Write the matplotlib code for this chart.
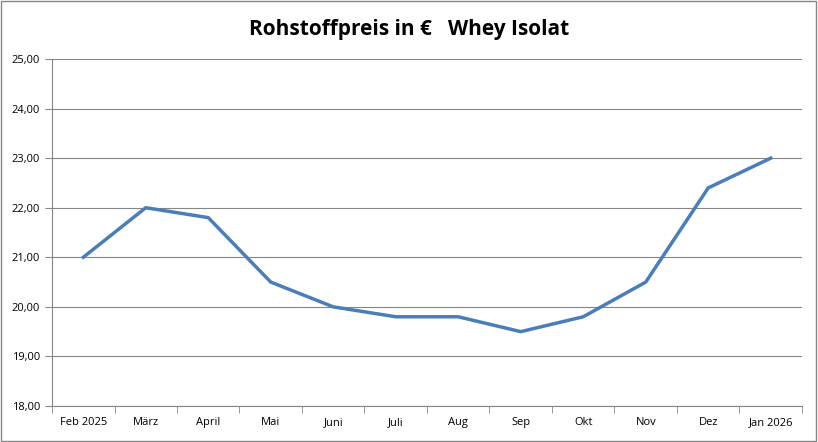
import matplotlib
matplotlib.use("Agg")
import matplotlib.pyplot as plt
from matplotlib.patches import Rectangle

months = ["Feb 2025", "März", "April", "Mai", "Juni", "Juli", "Aug", "Sep", "Okt", "Nov", "Dez", "Jan 2026"]
prices = [21.0, 22.0, 21.8, 20.5, 20.0, 19.8, 19.8, 19.5, 19.8, 20.5, 22.4, 23.0]
title = "Rohstoffpreis in €   Whey Isolat"

plt.rcParams['font.family'] = ['Open Sans', 'DejaVu Sans']
fig = plt.figure(figsize=(8.18, 4.42), dpi=100)
ax = fig.add_axes([52/818, 1-406/442, 750/818, 347/442])
x = list(range(len(months)))
ax.plot(x, prices, color="#4a7ebb", lw=2.5, solid_joinstyle="round")
ax.set_xlim(-0.5, len(months)-0.5)
ax.set_ylim(18, 25)
ax.set_yticks([18, 19, 20, 21, 22, 23, 24, 25])
ax.set_yticklabels([f"{v:.2f}".replace(".", ",") for v in range(18, 26)], fontsize=8)
ax.set_xticks(x)
ax.set_xticklabels(months, fontsize=8)
ax.set_xticks([i-0.5 for i in range(len(months)+1)], minor=True)
ax.tick_params(axis="x", which="major", length=0, pad=8)
ax.tick_params(axis="x", which="minor", length=5, color="#868686")
ax.tick_params(axis="y", length=5, color="#868686")
ax.grid(axis="y", color="#868686", lw=0.8)
ax.set_axisbelow(True)
for s in ["top", "right"]:
    ax.spines[s].set_visible(False)
for s in ["left", "bottom"]:
    ax.spines[s].set_color("#868686")
fig.text(0.5, 1-30/442, title, ha="center", va="center", fontsize=15, fontweight="bold")
fig.patches.append(Rectangle((0.001, 0.002), 0.997, 0.996, transform=fig.transFigure,
                             fill=False, edgecolor="#868686", lw=1))
fig.savefig("out.png", dpi=100)
